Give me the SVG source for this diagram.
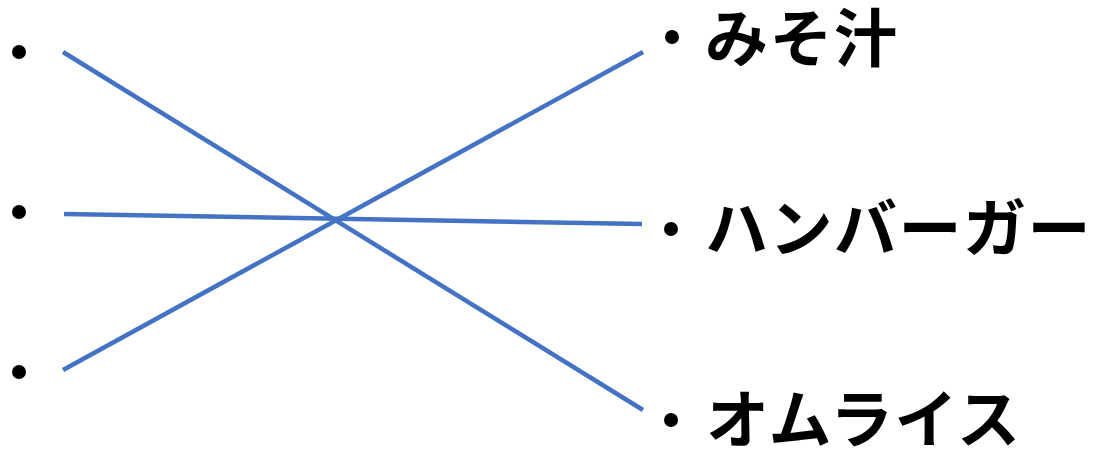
<svg xmlns="http://www.w3.org/2000/svg" width="1101" height="452" viewBox="0 0 1101 452">
<style>
.dot{fill:#000}
.lbl{font-family:"Noto Sans CJK JP","Noto Sans",sans-serif;font-weight:bold;font-size:63px;letter-spacing:1.5px;fill:#000}
.ln{stroke:#4472C4;stroke-width:4.5;fill:none}
</style>
<rect width="1101" height="452" fill="#fff"/>
<g id="connectors">
<line class="ln" x1="63" y1="52" x2="643" y2="410"/>
<line class="ln" x1="64" y1="214" x2="642" y2="224"/>
<line class="ln" x1="63" y1="370" x2="643" y2="52"/>
</g>
<g id="left1"><circle class="dot" cx="19" cy="52" r="7"/></g>
<g id="left2"><circle class="dot" cx="19" cy="212" r="7"/></g>
<g id="left3"><circle class="dot" cx="19" cy="372" r="7"/></g>
<g id="miso"><circle class="dot" cx="672" cy="37" r="7"/><text class="lbl" x="705" y="61">みそ汁</text></g>
<g id="hamburger"><circle class="dot" cx="671" cy="229" r="7"/><text class="lbl" x="705" y="251">ハンバーガー</text></g>
<g id="omurice"><circle class="dot" cx="671" cy="420" r="7"/><text class="lbl" x="706" y="442">オムライス</text></g>
</svg>
